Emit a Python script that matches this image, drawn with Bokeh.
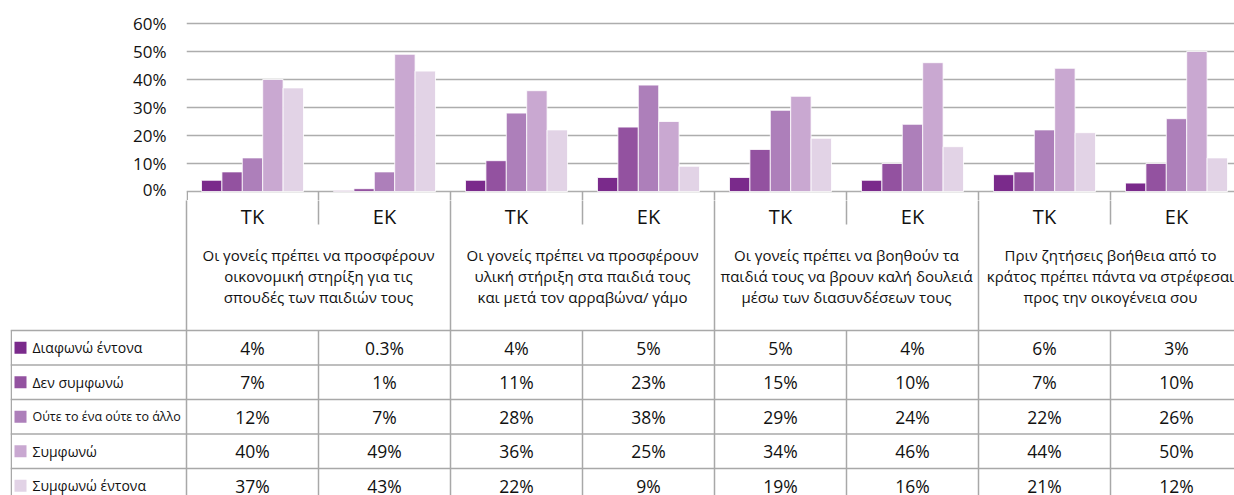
import numpy as np
from bokeh.plotting import figure
from bokeh.layouts import column
from bokeh.models import Range1d, FixedTicker, PrintfTickFormatter, ColumnDataSource
from bokeh.core.properties import value
from bokeh.embed import file_html
from bokeh.resources import INLINE

# ---------------- data ----------------
groups = ["ΤΚ", "ΕΚ", "ΤΚ", "ΕΚ", "ΤΚ", "ΕΚ", "ΤΚ", "ΕΚ"]
statements = [
    ["Οι γονείς πρέπει να προσφέρουν", "οικονομική στηρίξη για τις", "σπουδές των παιδιών τους"],
    ["Οι γονείς πρέπει να προσφέρουν", "υλική στήριξη στα παιδιά τους", "και μετά τον αρραβώνα/ γάμο"],
    ["Οι γονείς πρέπει να βοηθούν τα", "παιδιά τους να βρουν καλή δουλειά", "μέσω των διασυνδέσεων τους"],
    ["Πριν ζητήσεις βοήθεια από το", "κράτος πρέπει πάντα να στρέφεσαι", "προς την οικογένεια σου"],
]
series_names = ["Διαφωνώ έντονα", "Δεν συμφωνώ", "Ούτε το ένα ούτε το άλλο", "Συμφωνώ", "Συμφωνώ έντονα"]
diafono_entona = [4, 0.3, 4, 5, 5, 4, 6, 3]
den_symfono = [7, 1, 11, 23, 15, 10, 7, 10]
oute = [12, 7, 28, 38, 29, 24, 22, 26]
symfono = [40, 49, 36, 25, 34, 46, 44, 50]
symfono_entona = [37, 43, 22, 9, 19, 16, 21, 12]
series_values = [diafono_entona, den_symfono, oute, symfono, symfono_entona]
y_ticks = [0, 10, 20, 30, 40, 50, 60]

# ---------------- style / layout ----------------
colors = ["#7A2A8B", "#9352A0", "#AD7FBA", "#C9A8D1", "#E2D3E6"]
legend_font_sizes = ["14px", "14px", "12.5px", "14px", "14px"]
FONT = value("Open Sans")
LINE_C = "#A8A8A8"
TEXT_C = "#111111"

W = 1234
CAT_PX = 132.0
FRAME_LEFT = 186.0      # page px of first category boundary
LEG_LEFT = 10.0         # page px of legend column left border
RIGHT = 1234.0
XL = -(FRAME_LEFT - LEG_LEFT) / CAT_PX
XR = (RIGHT - FRAME_LEFT) / CAT_PX
BAR_W = 0.1545
NCAT = len(groups)

# figure A (bars)
A_TOP, A_BOTTOM, Y0_PX, PX_PER_PCT = 0.0, 200.0, 191.0, 2.8
ya_start = -(A_BOTTOM - Y0_PX) / PX_PER_PCT
ya_end = (Y0_PX - A_TOP) / PX_PER_PCT

pA = figure(width=W, height=int(A_BOTTOM - A_TOP), x_range=Range1d(0, XR),
            y_range=Range1d(ya_start, ya_end), output_backend="svg",
            toolbar_location=None, x_axis_location=None, min_border=0,
            min_border_left=int(FRAME_LEFT), min_border_right=0,
            min_border_top=0, min_border_bottom=0, outline_line_color=None,
            frame_align=False)
pA.yaxis.ticker = FixedTicker(ticks=y_ticks)
pA.yaxis.formatter = PrintfTickFormatter(format="%d%%")
pA.yaxis.axis_line_color = None
pA.yaxis.major_tick_line_color = None
pA.yaxis.minor_tick_line_color = None
pA.yaxis.major_tick_out = 0
pA.yaxis.major_tick_in = 0
pA.yaxis.major_label_standoff = 20
pA.yaxis.major_label_text_font = "Open Sans"
pA.yaxis.major_label_text_font_size = "17px"
pA.yaxis.major_label_text_color = TEXT_C
pA.xgrid.visible = False
pA.ygrid.ticker = FixedTicker(ticks=y_ticks)
pA.ygrid.grid_line_color = "#ADADAD"
pA.ygrid.grid_line_width = 1.5

centers = np.arange(NCAT) + 0.5
for j, (vals, col) in enumerate(zip(series_values, colors)):
    src = ColumnDataSource(dict(x=centers + (j - 2) * BAR_W, top=vals))
    pA.vbar(x="x", top="top", bottom=0, width=BAR_W, source=src,
            fill_color=col, line_color="white", line_width=0.8)

# boundary ticks continuing into the table
edge = 0.75 / CAT_PX
bx = [edge] + list(range(1, NCAT))
pA.segment(x0=bx, x1=bx, y0=[0] * len(bx), y1=[ya_start - 1] * len(bx),
           line_color=LINE_C, line_width=1.5)

# figure B (table)
B_TOP, B_BOTTOM = A_BOTTOM, 495.0
CAT_ROW_BOTTOM = 224.0
HEAD_BOTTOM = 330.0
ROW_H = 34.5

pB = figure(width=W, height=int(B_BOTTOM - B_TOP), x_range=Range1d(XL, XR),
            y_range=Range1d(B_BOTTOM, B_TOP), output_backend="svg",
            toolbar_location=None, x_axis_location=None, y_axis_location=None,
            min_border=0, min_border_left=int(LEG_LEFT), min_border_right=0,
            min_border_top=0, min_border_bottom=0, outline_line_color=None,
            frame_align=False)
pB.grid.visible = False

vx0, vx1, vy0, vy1 = [], [], [], []
def vline(x, y0, y1):
    vx0.append(x); vx1.append(x); vy0.append(y0); vy1.append(y1)

vline(0, B_TOP - 2, B_BOTTOM + 5)
vline(XL + edge, HEAD_BOTTOM, B_BOTTOM + 5)
for b in range(1, NCAT):
    if b % 2 == 1:
        vline(b, B_TOP - 2, CAT_ROW_BOTTOM)
        vline(b, HEAD_BOTTOM, B_BOTTOM + 5)
    else:
        vline(b, B_TOP - 2, B_BOTTOM + 5)
for r in range(len(series_names)):
    yy = HEAD_BOTTOM + r * ROW_H
    vx0.append(XL); vx1.append(XR + 1); vy0.append(yy); vy1.append(yy)
pB.segment(x0=vx0, x1=vx1, y0=vy0, y1=vy1, line_color=LINE_C, line_width=1.5)

# category labels
pB.text(x=list(centers), y=[216] * NCAT, text=groups, text_font=FONT,
        text_font_size="20px", text_align="center", text_baseline="middle",
        text_color=TEXT_C)

# statement labels
sx, sy, st = [], [], []
for k, lines in enumerate(statements):
    for li, line in enumerate(lines):
        sx.append(2 * k + 1); sy.append(254 + li * 21); st.append(line)
pB.text(x=sx, y=sy, text=st, text_font=FONT, text_font_size="15px",
        text_align="center", text_baseline="middle", text_color=TEXT_C)

# data table rows
row_c = [HEAD_BOTTOM + (r + 0.5) * ROW_H for r in range(len(series_names))]
pB.scatter(x=[XL + 10 / CAT_PX] * 5, y=row_c, marker="square", size=12,
           fill_color=colors, line_color=None)
pB.text(x=[XL + 22 / CAT_PX] * 5, y=row_c, text=series_names, text_font=FONT,
        text_font_size=legend_font_sizes, text_align="left",
        text_baseline="middle", text_color=TEXT_C)

tx, ty, tt = [], [], []
for r, vals in enumerate(series_values):
    for i, v in enumerate(vals):
        tx.append(centers[i]); ty.append(row_c[r]); tt.append(f"{v:g}%")
pB.text(x=tx, y=ty, text=tt, text_font=FONT, text_font_size="17.5px",
        text_align="center", text_baseline="middle", text_color=TEXT_C)

layout = column(pA, pB, spacing=0)
open("out.html", "w").write(file_html(layout, INLINE))
